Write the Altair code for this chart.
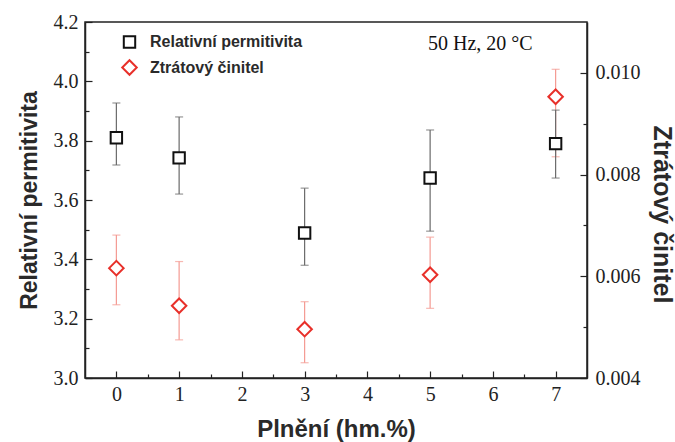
import altair as alt
import pandas as pd

# ---- data ----
filling = [0, 1, 3, 5, 7]
perm = [3.81, 3.742, 3.489, 3.674, 3.79]
perm_lo = [3.718, 3.62, 3.38, 3.495, 3.674]
perm_hi = [3.927, 3.88, 3.64, 3.836, 3.903]
loss = [0.00616, 0.00542, 0.00496, 0.00603, 0.00953]
loss_lo = [0.00544, 0.00475, 0.0043, 0.00537, 0.00835]
loss_hi = [0.00681, 0.00629, 0.0055, 0.00677, 0.01007]
series = ["Relativní permitivita", "Ztrátový činitel"]
x_ticks = [0, 0.5, 1, 1.5, 2, 2.5, 3, 3.5, 4, 4.5, 5, 5.5, 6, 6.5, 7]
left_ticks = [3.0, 3.1, 3.2, 3.3, 3.4, 3.5, 3.6, 3.7, 3.8, 3.9, 4.0, 4.1, 4.2]
right_ticks = [0.004, 0.005, 0.006, 0.007, 0.008, 0.009, 0.010]
note = ["50 Hz, 20 °C"]

df_perm = pd.DataFrame({"x": filling, "v": perm, "lo": perm_lo, "hi": perm_hi,
                        "series": series[0]})
df_loss = pd.DataFrame({"x": filling, "v": loss, "lo": loss_lo, "hi": loss_hi,
                        "series": series[1]})
df_note = pd.DataFrame({"x": [5.8], "v": [4.106], "t": note})

BLACK = "#111111"
RED = "#e8302a"

def tick_size(test):
    return {"condition": {"test": test, "value": -7}, "value": -4}

x_axis = alt.Axis(
    title="Plnění (hm.%)", values=x_ticks,
    labelExpr="datum.value % 1 === 0 ? format(datum.value, 'd') : ''",
    tickSize=tick_size("datum.value % 1 === 0"),
    labelPadding=13, titlePadding=13, titleFontSize=24,
)
x_enc = alt.X("x:Q", scale=alt.Scale(domain=[-0.5, 7.5], nice=False, zero=False),
              axis=x_axis)

left_axis = alt.Axis(
    title="Relativní permitivita", orient="left", values=left_ticks,
    labelExpr="round(datum.value*10) % 2 === 0 ? format(datum.value, '.1f') : ''",
    tickSize=tick_size("round(datum.value*10) % 2 === 0"),
    labelPadding=14, titlePadding=12, titleFontSize=23,
)
left_scale = alt.Scale(domain=[3.0, 4.2], nice=False, zero=False)

right_axis = alt.Axis(
    title="Ztrátový činitel", orient="right", values=right_ticks,
    labelExpr="round(datum.value*1000) % 2 === 0 ? format(datum.value, '.3f') : ''",
    tickSize=tick_size("round(datum.value*1000) % 2 === 0"),
    labelPadding=15, titlePadding=8, titleFontSize=25, titleY=192,
)
right_scale = alt.Scale(domain=[0.004, 0.011], nice=False, zero=False)

legend = alt.Legend(
    title=None, orient="none", legendX=36, legendY=12,
    padding=0, rowPadding=4, symbolStrokeWidth=2,
    symbolFillColor="white",
    labelFont="Liberation Sans", labelFontWeight="bold",
    labelFontSize=16, labelColor="#2a2a2a", labelOffset=12,
)
color_enc = alt.Color("series:N", scale=alt.Scale(domain=series, range=[BLACK, RED]),
                      legend=legend)
shape_enc = alt.Shape("series:N", scale=alt.Scale(domain=series, range=["square", "diamond"]),
                      legend=legend)
size_enc = alt.Size("series:N", scale=alt.Scale(domain=series, range=[130, 210]),
                    legend=legend)

# right-axis group (loss factor)
loss_err = alt.Chart(df_loss).mark_errorbar(
    color="#f49a92", thickness=1.2,
    ticks={"size": 8, "thickness": 1.2, "color": "#f49a92"},
).encode(x=x_enc, y=alt.Y("lo:Q", scale=right_scale, axis=right_axis), y2="hi:Q")
loss_pts = alt.Chart(df_loss).mark_point(filled=False, fill="white", fillOpacity=1,
                                         strokeWidth=2, opacity=1).encode(
    x=x_enc, y=alt.Y("v:Q", scale=right_scale, axis=right_axis),
    color=color_enc, shape=shape_enc, size=size_enc)
group_right = alt.layer(loss_err, loss_pts)

# left-axis group (permittivity)
perm_err = alt.Chart(df_perm).mark_errorbar(
    color="#6a6a6a", thickness=1.2,
    ticks={"size": 8, "thickness": 1.2, "color": "#6a6a6a"},
).encode(x=x_enc, y=alt.Y("lo:Q", scale=left_scale, axis=left_axis), y2="hi:Q")
perm_pts = alt.Chart(df_perm).mark_point(filled=False, fill="white", fillOpacity=1,
                                         strokeWidth=2, opacity=1).encode(
    x=x_enc, y=alt.Y("v:Q", scale=left_scale, axis=left_axis),
    color=color_enc, shape=shape_enc, size=size_enc)
note_txt = alt.Chart(df_note).mark_text(font="Liberation Serif", fontSize=20,
                                        color="#111", align="center",
                                        baseline="alphabetic").encode(
    x=x_enc, y=alt.Y("v:Q", scale=left_scale, axis=left_axis), text="t:N")
group_left = alt.layer(perm_err, perm_pts, note_txt)

chart = alt.layer(group_right, group_left).resolve_scale(y="independent").properties(
    width=502, height=356,
    autosize=alt.AutoSizeParams(type="none"),
    padding={"left": 85, "top": 22, "right": 88, "bottom": 64},
    background="white",
).configure_view(stroke="#222", strokeWidth=1.5).configure_axis(
    grid=False, domainColor="#222", domainWidth=1.5, tickColor="#222", tickWidth=1.2,
    labelFont="Liberation Serif", labelFontSize=20, labelColor="#222",
    titleFont="Liberation Sans", titleFontWeight="bold",
    titleColor="#2a2a2a",
)

chart.save("out.html", embed_options={"renderer": "svg", "actions": False})
